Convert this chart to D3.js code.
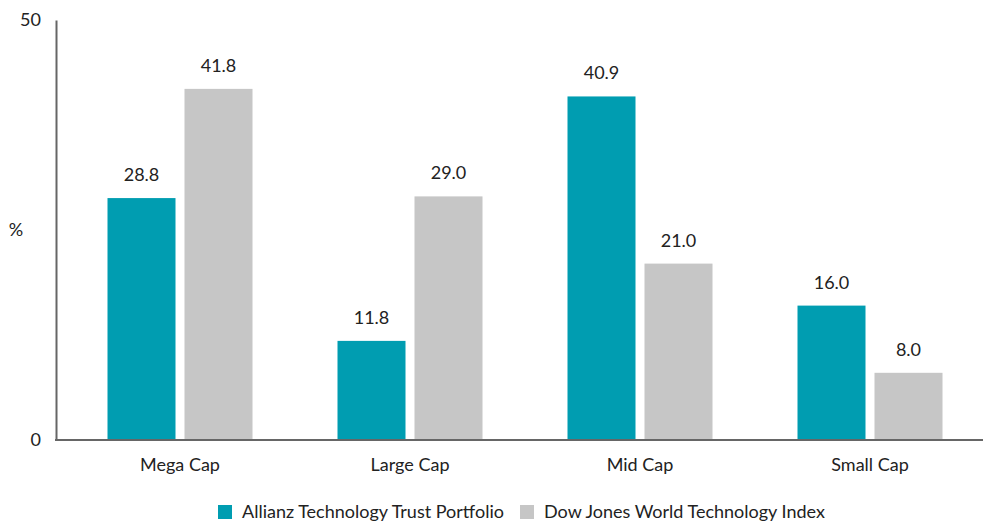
<!DOCTYPE html>
<html>
<head>
<meta charset="utf-8">
<script src="https://cdn.jsdelivr.net/npm/d3@7"></script>
<style>
  html, body { margin: 0; padding: 0; background: #fff; }
  svg { display: block; }
  text { font-family: Lato, "Open Sans", sans-serif; fill: #222; }
</style>
</head>
<body>
<svg id="chart" width="983" height="524"></svg>
<script>
const categories = ["Mega Cap", "Large Cap", "Mid Cap", "Small Cap"];
const seriesNames = ["Allianz Technology Trust Portfolio", "Dow Jones World Technology Index"];
const allianzValues = [28.8, 11.8, 40.9, 16.0];
const dowJonesValues = [41.8, 29.0, 21.0, 8.0];
const yTicks = [0, 50];
const colors = ["#009db1", "#c6c6c6"];

(function () {
const seriesValues = [allianzValues, dowJonesValues];
const svg = d3.select("#chart");
const axisX = 56, plotTop = 20, plotBottom = 440;
const fs = 18;

const x = d3.scaleBand().domain(categories).range([65, 985]).padding(0);
const bw = x.bandwidth();
const inner = d3.scaleBand().domain(d3.range(seriesNames.length))
  .range([bw / 2 - 72.5, bw / 2 + 72.5]).paddingInner(9 / 77).paddingOuter(0);
const y = d3.scaleLinear().domain([0, 50]).range([plotBottom, plotTop]);

// bars
categories.forEach((c, ci) => {
  const g = svg.append("g").attr("transform", `translate(${x(c)},0)`);
  seriesValues.forEach((vals, si) => {
    const v = vals[ci];
    g.append("rect")
      .attr("x", inner(si)).attr("width", inner.bandwidth())
      .attr("y", y(v)).attr("height", y(0) - y(v))
      .attr("fill", colors[si]);
    g.append("text")
      .attr("x", inner(si) + inner.bandwidth() / 2)
      .attr("y", y(v) - 17)
      .attr("text-anchor", "middle")
      .attr("font-size", fs)
      .text(v.toFixed(1));
  });
});

// y axis
const yAxis = d3.axisLeft(y).tickValues(yTicks).tickSize(0).tickPadding(15).tickFormat(d3.format("d"));
const yg = svg.append("g").attr("transform", `translate(${axisX},0)`).call(yAxis);
yg.select(".domain").attr("stroke", "#666").attr("stroke-width", 2);
yg.selectAll("text").attr("font-size", fs).attr("font-family", "Lato, sans-serif").attr("fill", "#222");

// x axis
const xAxis = d3.axisBottom(x).tickSize(0).tickPadding(18);
const xg = svg.append("g").attr("transform", `translate(0,${plotBottom})`).call(xAxis);
xg.select(".domain").remove();
xg.append("line").attr("x1", axisX - 1).attr("x2", 983).attr("y1", 0).attr("y2", 0)
  .attr("stroke", "#666").attr("stroke-width", 2);
xg.selectAll(".tick text").attr("font-size", fs).attr("font-family", "Lato, sans-serif").attr("fill", "#222");

// unit label
svg.append("text").attr("x", 16).attr("y", y(25)).attr("dy", "0.35em")
  .attr("text-anchor", "middle").attr("font-size", fs).text("%");

// legend
const legendX = [218, 520];
seriesNames.forEach((n, i) => {
  svg.append("rect").attr("x", legendX[i]).attr("y", 505).attr("width", 14).attr("height", 14).attr("fill", colors[i]);
  svg.append("text").attr("x", legendX[i] + 24).attr("y", 512).attr("dy", "0.35em")
    .attr("font-size", fs).text(n);
});
})();
</script>
</body>
</html>
